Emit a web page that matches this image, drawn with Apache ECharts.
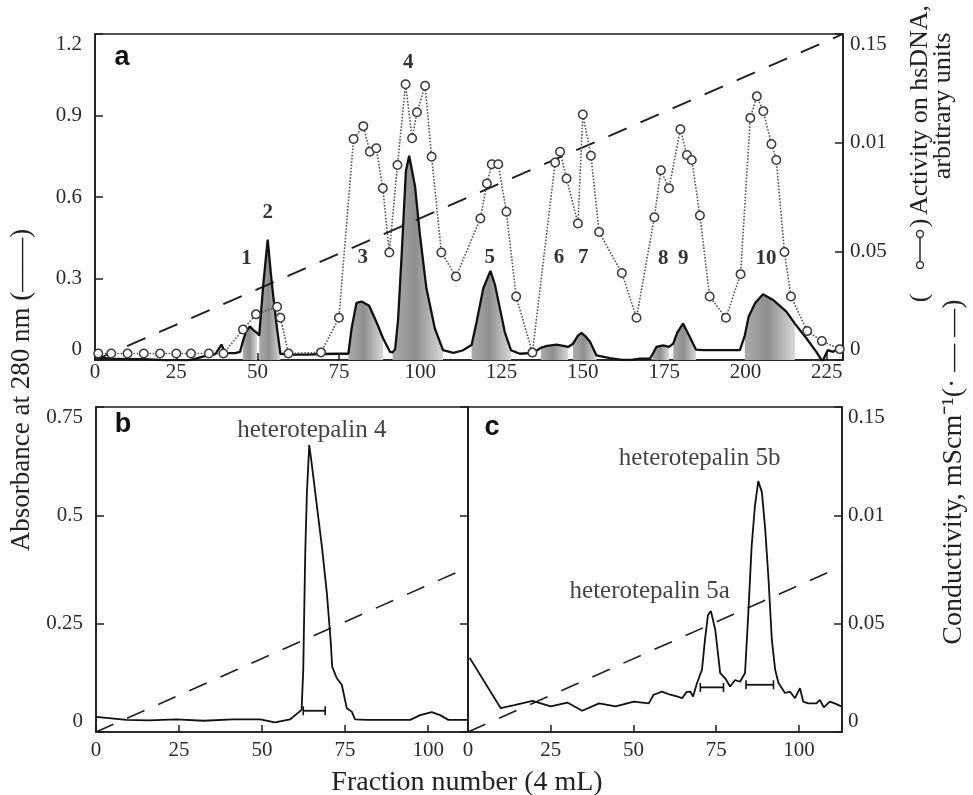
<!DOCTYPE html>
<html>
<head>
<meta charset="utf-8">
<script src="https://cdn.jsdelivr.net/npm/echarts@6/dist/echarts.min.js"></script>
<style>
html,body{margin:0;padding:0;background:#fff;}
#chart{width:973px;height:795px;}
</style>
</head>
<body>
<div id="chart"></div>
<script>
// ---------- DATA ----------
// Panel a: absorbance at 280 nm [fraction, A280]
const absorbanceA = [[0,0.01],[5,0.005],[10,0.003],[15,0.003],[20,0.0],[22,-0.003],[25,0.0],[28,-0.003],[31,0.005],[34,0.015],[37,0.022],[38.9,0.057],[40,0.025],[43,0.025],[44.6,0.03],[45.5,0.07],[46.5,0.105],[47.6,0.124],[48.7,0.11],[49.8,0.1],[50.5,0.09],[51.7,0.272],[53.1,0.443],[54.3,0.29],[55.7,0.14],[57,0.023],[60,0.02],[65,0.02],[70,0.022],[75,0.023],[77.9,0.023],[78.9,0.116],[80.4,0.21],[82,0.215],[84.3,0.2],[86.6,0.138],[88.6,0.079],[90.7,0.03],[91.5,0.028],[92.3,0.04],[93.2,0.15],[94.3,0.388],[95.6,0.696],[96.6,0.752],[98.4,0.64],[99.9,0.462],[101.9,0.264],[104.5,0.116],[107,0.036],[110.2,0.026],[113,0.035],[115.8,0.055],[117.3,0.138],[119.4,0.264],[121.6,0.328],[123,0.276],[124.5,0.19],[126,0.103],[127.9,0.036],[130.6,0.023],[134.7,0.026],[137.1,0.045],[139,0.052],[141.9,0.057],[144,0.052],[145.5,0.048],[147,0.06],[148.5,0.09],[149.6,0.1],[151,0.085],[152.2,0.067],[154.2,0.017],[158.3,0.007],[162,0.0],[165,0.0],[167.5,0.005],[170.6,0.005],[171.4,0.02],[172.6,0.048],[174.7,0.054],[176.5,0.048],[177.8,0.06],[179,0.1],[180.8,0.134],[182.9,0.085],[184.8,0.038],[187,0.036],[195,0.036],[198.3,0.036],[199.8,0.09],[201,0.16],[203,0.21],[205.4,0.242],[208.5,0.221],[212.6,0.178],[215.2,0.134],[218.8,0.079],[221.8,0.03],[223.7,-0.005],[225.3,0.036],[227,0.03],[229,0.048],[230,0.04]];
// Panel a: activity on hsDNA [fraction, value on right axis]
const activityA = [[1,0.003],[5,0.003],[10,0.003],[15,0.003],[20,0.003],[25,0.003],[29.5,0.003],[35,0.003],[39.5,0.003],[45.5,0.014],[49.5,0.021],[56,0.0245],[57,0.0194],[59.5,0.003],[69.5,0.0035],[75,0.0194],[79.5,0.1017],[82.5,0.1076],[84.5,0.0958],[86.5,0.0974],[88.5,0.079],[90.5,0.0495],[93,0.0897],[95.5,0.1269],[97.5,0.102],[99,0.114],[101.5,0.1262],[103.5,0.0935],[106.5,0.0495],[111,0.0384],[118.5,0.0651],[120.5,0.0812],[122,0.0901],[124,0.0901],[126.5,0.0682],[129.5,0.0292],[134.5,0.0034],[141.5,0.0909],[143,0.0958],[145,0.0835],[148.5,0.0628],[150,0.113],[152.5,0.094],[155,0.0589],[162,0.04],[166.5,0.0194],[172,0.0657],[174,0.0873],[176.5,0.079],[180,0.1062],[182,0.0943],[183.5,0.092],[186,0.0665],[189,0.0292],[194,0.0194],[198.5,0.0395],[201.5,0.1114],[203.5,0.1213],[205.5,0.1145],[208,0.0994],[209.5,0.092],[212,0.0497],[214,0.0292],[219,0.0133],[223.5,0.0087],[229,0.005]];
// Panel a: conductivity gradient (right axis)
const conductivityA = [[0,0],[230,0.15]];
// Panel a: shaded (pooled) peak ranges
const shadeRanges = [[45.5,49.8],[50.5,57],[77.9,88.6],[91.5,107],[115.8,127.9],[137.1,145.5],[147,154.2],[171.4,176.5],[177.8,184.8],[199.8,215.2]];
// Panel a: peak numbers and their label positions
const peakNames = ['1','2','3','4','5','6','7','8','9','10'];
const peakLabelX = [46.6,53.1,82.3,96.3,121.4,142.7,150.1,174.7,180.9,206.3];
const peakLabelY = [0.374,0.542,0.378,1.094,0.378,0.378,0.378,0.373,0.373,0.373];

// Panel b: heterotepalin 4 rechromatography
const absorbanceB = [[0,0.035],[9.2,0.028],[16,0.027],[24.3,0.029],[32.3,0.026],[41.3,0.029],[49.4,0.029],[53.9,0.022],[58.4,0.029],[61.9,0.051],[62.4,0.144],[63,0.414],[63.5,0.552],[64.2,0.662],[64.9,0.622],[66.5,0.522],[68,0.429],[69.5,0.321],[70.7,0.205],[71.1,0.151],[72.5,0.124],[74,0.109],[75.5,0.055],[77,0.047],[78,0.029],[81.5,0.028],[94.6,0.028],[97.6,0.039],[101.1,0.046],[103.6,0.039],[106.1,0.028],[112,0.028]];
const conductivityB = [[0,0],[112,0.38]];
const errorBarB = [[62.4,69,0.049]];

// Panel c: heterotepalin 5 rechromatography
const absorbanceC = [[0.5,0.171],[9.9,0.055],[14,0.062],[19.5,0.072],[25,0.059],[30,0.068],[34.5,0.049],[39.6,0.066],[44.6,0.059],[50.1,0.07],[54.6,0.066],[56.1,0.086],[58.6,0.093],[61.1,0.086],[63.1,0.082],[64.7,0.078],[66,0.092],[67.2,0.093],[68,0.082],[69.2,0.113],[70.7,0.144],[71.6,0.213],[72.5,0.27],[73.4,0.279],[74.7,0.236],[76.2,0.136],[77.7,0.124],[79.2,0.105],[80.7,0.12],[82.2,0.116],[83.7,0.136],[84.7,0.275],[85.7,0.429],[86.7,0.522],[87.7,0.579],[88.8,0.553],[89.8,0.468],[90.8,0.352],[91.8,0.213],[92.8,0.144],[93.8,0.113],[95.8,0.09],[97.3,0.093],[98.8,0.078],[100.3,0.101],[101.3,0.07],[102.8,0.066],[105.3,0.066],[106.3,0.074],[107.5,0.057],[109.3,0.07],[110.8,0.066],[112.8,0.059]];
const conductivityC = [[0,0],[113,0.0765]];
const errorBarsC = [[70.2,77.2,0.103],[84,92.3,0.109]];

// Tick labels
const yTicksA = ['0','0.3','0.6','0.9','1.2'];
const rightTickLabels = ['0','0.05','0.01','0.15'];
const yTicksB = ['0','0.25','0.5','0.75'];

// Annotation texts
const annB = [{name:'heterotepalin 4', x:65, y:0.695}];
const annC = [{name:'heterotepalin 5b', x:70, y:0.631},{name:'heterotepalin 5a', x:54.9, y:0.325}];

// ---------- CHART ----------
const chart = echarts.init(document.getElementById('chart'), null, {renderer:'canvas'});
const SERIF = 'Liberation Serif';
const INK = '#1e1e1e';
const tickFont = {fontFamily:SERIF, fontSize:21, color:'#2a2a2a'};

function xAx(gi, max, margin){
  return {gridIndex:gi, type:'value', min:0, max:max, interval:25,
    axisLine:{show:true, onZero:false, lineStyle:{color:INK, width:1.6}},
    axisTick:{show:true, inside:true, length:7, lineStyle:{color:INK, width:1.5}},
    splitLine:{show:false},
    axisLabel:Object.assign({margin:margin, formatter:v => (v % 25 === 0 ? String(v) : '')}, tickFont)};
}
function yAx(gi, pos, max, interval, labels, showLabel, showTick, margin){
  return {gridIndex:gi, type:'value', position:pos, min:0, max:max, interval:interval,
    axisLine:{show:true, onZero:false, lineStyle:{color:INK, width:1.6}},
    axisTick:{show:showTick, inside:true, length:8, lineStyle:{color:INK, width:1.5}},
    splitLine:{show:false},
    axisLabel:Object.assign({show:showLabel, margin:margin,
      verticalAlignMaxLabel:'top', verticalAlignMinLabel:'bottom',
      formatter:v => { const i = Math.round(v/interval); return labels[i] !== undefined ? labels[i] : ''; }}, tickFont)};
}
function shadeFill(){
  return new echarts.graphic.LinearGradient(0,0,1,0,[
    {offset:0, color:'#ababab'},{offset:0.45, color:'#8e8e8e'},{offset:1, color:'#d8d8d8'}]);
}

const series = [];
// shaded peaks
shadeRanges.forEach(r => {
  series.push({type:'line', xAxisIndex:0, yAxisIndex:0, silent:true, symbol:'none', z:1,
    data: absorbanceA.filter(p => p[0] >= r[0] && p[0] <= r[1]),
    lineStyle:{width:0, opacity:0},
    areaStyle:{color:shadeFill(), opacity:1}});
});
// conductivity a
series.push({type:'line', xAxisIndex:0, yAxisIndex:1, symbol:'none', z:2, data:conductivityA,
  lineStyle:{color:INK, width:1.9, type:[20,15]}});
// absorbance a
series.push({type:'line', xAxisIndex:0, yAxisIndex:0, symbol:'none', z:3, data:absorbanceA,
  lineStyle:{color:'#111', width:2.3}});
// activity a
series.push({type:'line', xAxisIndex:0, yAxisIndex:1, z:4, data:activityA,
  symbol:'circle', symbolSize:8.5, showAllSymbol:true,
  lineStyle:{color:'#555', width:1.6, type:'dotted'},
  itemStyle:{color:'#fff', borderColor:'#3a3a3a', borderWidth:1.5}});
// peak labels
series.push({type:'scatter', xAxisIndex:0, yAxisIndex:0, symbolSize:0, z:6, silent:true,
  data: peakNames.map((n,i) => ({name:n, value:[peakLabelX[i], peakLabelY[i]]})),
  label:{show:true, position:'inside', formatter:p => p.name, fontFamily:SERIF, fontWeight:'bold', fontSize:21, color:'#000'}});

// panel b
series.push({type:'line', xAxisIndex:1, yAxisIndex:2, symbol:'none', z:2, data:conductivityB,
  lineStyle:{color:INK, width:1.6, type:[19,15]}});
series.push({type:'line', xAxisIndex:1, yAxisIndex:2, symbol:'none', z:3, data:absorbanceB,
  lineStyle:{color:'#111', width:1.8}});
errorBarB.forEach(e => series.push({type:'line', xAxisIndex:1, yAxisIndex:2, z:4, silent:true,
  data:[[e[0],e[2]],[e[1],e[2]]], symbol:'rect', symbolSize:[1.6,9], showAllSymbol:true,
  lineStyle:{color:'#111', width:1.8}, itemStyle:{color:'#111'}}));
series.push({type:'scatter', xAxisIndex:1, yAxisIndex:2, symbolSize:0, z:6, silent:true,
  data: annB.map(a => ({name:a.name, value:[a.x,a.y]})),
  label:{show:true, position:'inside', formatter:p => p.name, fontFamily:SERIF, fontSize:25, color:'#111'}});

// panel c
series.push({type:'line', xAxisIndex:2, yAxisIndex:5, symbol:'none', z:2, data:conductivityC,
  lineStyle:{color:INK, width:1.6, type:[19,15]}});
series.push({type:'line', xAxisIndex:2, yAxisIndex:4, symbol:'none', z:3, data:absorbanceC,
  lineStyle:{color:'#111', width:1.8}});
errorBarsC.forEach(e => series.push({type:'line', xAxisIndex:2, yAxisIndex:4, z:4, silent:true,
  data:[[e[0],e[2]],[e[1],e[2]]], symbol:'rect', symbolSize:[1.6,9], showAllSymbol:true,
  lineStyle:{color:'#111', width:1.8}, itemStyle:{color:'#111'}}));
series.push({type:'scatter', xAxisIndex:2, yAxisIndex:4, symbolSize:0, z:6, silent:true,
  data: annC.map(a => ({name:a.name, value:[a.x,a.y]})),
  label:{show:true, position:'inside', formatter:p => p.name, fontFamily:SERIF, fontSize:25, color:'#111'}});

function rotText(x, y, text, extra){
  return {type:'text', x:x, y:y, rotation:Math.PI/2, z:10,
    style:Object.assign({text:text, align:'center', verticalAlign:'middle',
      font:'26px "Liberation Serif"', fill:'#222'}, extra||{})};
}

const option = {
  animation:false,
  backgroundColor:'#fff',
  grid:[
    {left:95, top:34, width:748, height:326, show:true, borderColor:INK, borderWidth:1.6, backgroundColor:'transparent'},
    {left:96, top:407, width:372, height:325, show:true, borderColor:INK, borderWidth:1.6, backgroundColor:'transparent'},
    {left:468, top:407, width:374, height:325, show:true, borderColor:INK, borderWidth:1.6, backgroundColor:'transparent'}
  ],
  xAxis:[ xAx(0,230,2), xAx(1,112,8), xAx(2,113,8) ],
  yAxis:[
    yAx(0,'left',1.2,0.3,yTicksA,true,true,13),
    yAx(0,'right',0.15,0.05,rightTickLabels,true,true,7),
    yAx(1,'left',0.75,0.25,yTicksB,true,true,13),
    yAx(1,'right',0.75,0.25,yTicksB,false,true,8),
    yAx(2,'left',0.75,0.25,yTicksB,false,false,8),
    yAx(2,'right',0.15,0.05,rightTickLabels,true,true,6)
  ],
  series:series,
  graphic:[
    {type:'text', x:122, y:58, z:10, style:{text:'a', align:'center', verticalAlign:'middle', font:'bold 27px "Liberation Sans"', fill:'#111'}},
    {type:'text', x:123, y:425, z:10, style:{text:'b', align:'center', verticalAlign:'middle', font:'bold 27px "Liberation Sans"', fill:'#111'}},
    {type:'text', x:492, y:428, z:10, style:{text:'c', align:'center', verticalAlign:'middle', font:'bold 27px "Liberation Sans"', fill:'#111'}},
    {type:'text', x:467, y:783, z:10, style:{text:'Fraction number (4 mL)', align:'center', verticalAlign:'middle', font:'28px "Liberation Serif"', fill:'#222'}},
    rotText(22, 390, 'Absorbance at 280 nm (——)', {font:'27px "Liberation Serif"'}),
    rotText(920, 110, 'Activity on hsDNA,'),
    rotText(943, 106, 'arbitrary units'),
    rotText(920, 223, ')'),
    rotText(920, 298, '('),
    {type:'line', z:10, shape:{x1:920, y1:236, x2:920, y2:263}, style:{stroke:'#333', lineWidth:1.6}},
    {type:'circle', z:11, shape:{cx:920, cy:234, r:3.5}, style:{fill:'#fff', stroke:'#333', lineWidth:1.4}},
    {type:'circle', z:11, shape:{cx:920, cy:265, r:3.5}, style:{fill:'#fff', stroke:'#333', lineWidth:1.4}},
    rotText(954, 472, 'Conductivity, mScm⁻¹(· — —)', {font:'28px "Liberation Serif"'})
  ]
};
chart.setOption(option);
</script>
</body>
</html>
